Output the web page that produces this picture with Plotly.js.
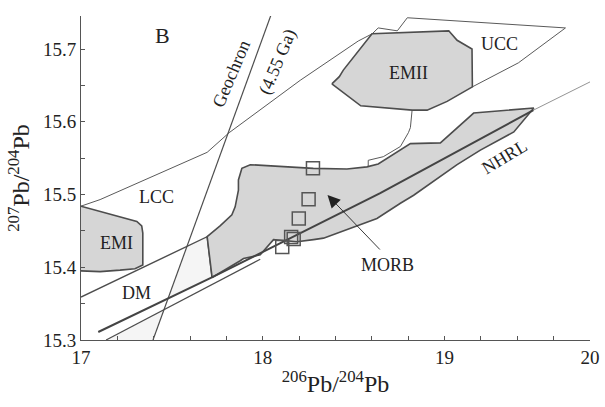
<!DOCTYPE html>
<html>
<head>
<meta charset="utf-8">
<script src="https://cdn.plot.ly/plotly-3.0.1.min.js"></script>
<style>html,body{margin:0;padding:0;background:#fff;}#chart{width:605px;height:407px;}</style>
</head>
<body>
<div id="chart"></div>
<script>
// ---- Data (206Pb/204Pb, 207Pb/204Pb) ----
const emiX = [17.000, 17.307, 17.334, 17.340, 17.340, 17.297, 17.215, 17.105, 17.000];
const emiY = [15.484, 15.463, 15.457, 15.447, 15.403, 15.398, 15.396, 15.394, 15.395];

const emiiX = [18.380, 18.421, 18.443, 18.601, 19.023, 19.069, 19.151, 19.153, 19.014, 18.904, 18.821, 18.539, 18.380];
const emiiY = [15.652, 15.662, 15.671, 15.721, 15.725, 15.712, 15.700, 15.648, 15.628, 15.616, 15.616, 15.622, 15.652];

const morbX = [17.721, 17.694, 17.765, 17.830, 17.848, 17.866, 17.866, 17.885, 17.931, 18.096, 18.278, 18.463, 18.573, 18.635, 18.812, 18.977, 19.160, 19.491,
               19.381, 19.197, 19.069, 18.830, 18.757, 18.628, 18.334, 18.279, 18.188, 18.059, 18.023, 17.986, 17.894, 17.876, 17.721];
const morbY = [15.386, 15.442, 15.457, 15.472, 15.483, 15.506, 15.520, 15.536, 15.541, 15.539, 15.536, 15.535, 15.538, 15.542, 15.570, 15.571, 15.612, 15.619,
               15.586, 15.561, 15.541, 15.499, 15.488, 15.467, 15.440, 15.438, 15.435, 15.438, 15.428, 15.417, 15.412, 15.409, 15.386];

// crustal envelope: LCC upper boundary running into UCC
const crustX = [17.000, 17.105, 17.694, 17.815, 18.206, 18.525, 18.602, 18.635, 18.740, 18.795, 19.665, 19.406, 19.153];
const crustY = [15.484, 15.493, 15.558, 15.585, 15.657, 15.711, 15.721, 15.729, 15.725, 15.743, 15.729, 15.681, 15.648];

// link from EMII down to the MORB field
const linkX = [18.821, 18.812, 18.801, 18.757, 18.663, 18.580, 18.580];
const linkY = [15.615, 15.592, 15.585, 15.566, 15.552, 15.547, 15.538];

// lower LCC boundary and DM divide
const lccLowX = [17.000, 17.694, 17.721];
const lccLowY = [15.359, 15.442, 15.386];

// NHRL (thick) and its thin extension
const nhrlX = [17.095, 17.720, 18.646, 19.489];
const nhrlY = [15.311, 15.386, 15.502, 15.616];
const nhrlExtX = [19.489, 19.874];
const nhrlExtY = [15.616, 15.664];

// lower thin line
const lowX = [17.138, 17.986];
const lowY = [15.300, 15.411];

// Geochron (4.55 Ga)
const geoX = [17.396, 18.057];
const geoY = [15.300, 15.755];

// faint shaded areas
const shadeAX = [17.581, 17.694, 17.721, 17.480, 17.581];
const shadeAY = [15.429, 15.442, 15.386, 15.359, 15.429];
const shadeBX = [17.138, 17.396, 17.455, 17.138];
const shadeBY = [15.300, 15.300, 15.341, 15.300];

// samples (open squares)
const sampleX = [18.276, 18.252, 18.198, 18.156, 18.170, 18.107];
const sampleY = [15.536, 15.4935, 15.467, 15.4416, 15.4388, 15.428];

// ticks
const xTickVals = [17, 18, 19, 19.8];
const xTickText = ['17', '18', '19', '20'];
const xMinorVals = [17.2, 17.4, 17.6, 17.8, 18.2, 18.4, 18.6, 18.8, 19.2, 19.4, 19.6];
const yTickVals = [15.3, 15.4, 15.5, 15.6, 15.7];
const yTickText = ['15.3', '15.4', '15.5', '15.6', '15.7'];
const yMinorVals = [15.35, 15.45, 15.55, 15.65];

// labels
const labelText = ['B', 'LCC', 'EMI', 'DM', 'EMII', 'UCC', 'MORB', 'NHRL', 'Geochron', '(4.55 Ga)'];
const labelX = [17.449, 17.413, 17.198, 17.303, 18.801, 19.302, 18.688, 19.329, 17.826, 18.079];
const labelY = [15.719, 15.4966, 15.4333, 15.3646, 15.6677, 15.7069, 15.4031, 15.5516, 15.6656, 15.6821];
const labelAngle = [0, 0, 0, 0, 0, 0, 0, -31, -67, -67];
const labelSize = [22, 18, 18, 18, 18, 18, 18, 18, 18, 18];

const arrowTip = [18.356, 15.4993];
const arrowTail = [18.652, 15.4223];

const FONT = "'Liberation Serif', serif";
const FILL = '#d6d6d6';
const EDGE = '#4d4d4d';
const THIN = '#5a5a5a';

function poly(x, y, fill, lw, lc) {
  return {x: x, y: y, type: 'scatter', mode: 'lines', fill: 'toself', fillcolor: fill,
          line: {color: lc || EDGE, width: lw}, hoverinfo: 'skip', showlegend: false};
}
function line(x, y, w, c) {
  return {x: x, y: y, type: 'scatter', mode: 'lines', line: {color: c || THIN, width: w},
          hoverinfo: 'skip', showlegend: false};
}

const traces = [
  poly(shadeAX, shadeAY, '#f5f5f5', 0, 'rgba(0,0,0,0)'),
  poly(shadeBX, shadeBY, '#f5f5f5', 0, 'rgba(0,0,0,0)'),
  line(crustX, crustY, 1, THIN),
  line(linkX, linkY, 1, THIN),
  line(lccLowX, lccLowY, 1.4, EDGE),
  line(geoX, geoY, 1.2, EDGE),
  line(lowX, lowY, 1.2, EDGE),
  poly(emiX, emiY, FILL, 1.6),
  poly(morbX, morbY, FILL, 1.6),
  poly(emiiX, emiiY, FILL, 1.6),
  line(nhrlX, nhrlY, 2, '#444'),
  line(nhrlExtX, nhrlExtY, 0.8, '#777'),
  {x: sampleX, y: sampleY, type: 'scatter', mode: 'markers', hoverinfo: 'skip', showlegend: false,
   marker: {symbol: 'square-open', size: 13, color: '#555', line: {width: 1.5, color: '#555'}}}
];

const annotations = labelText.map((t, i) => ({
  x: labelX[i], y: labelY[i], xref: 'x', yref: 'y', text: t, showarrow: false,
  textangle: labelAngle[i], font: {family: FONT, size: labelSize[i], color: '#222'},
  xanchor: 'center', yanchor: 'middle'
}));
annotations.push({
  x: arrowTip[0], y: arrowTip[1], ax: arrowTail[0], ay: arrowTail[1],
  xref: 'x', yref: 'y', axref: 'x', ayref: 'y', text: '', showarrow: true,
  arrowhead: 2, arrowsize: 2.8, arrowwidth: 0.9, arrowcolor: '#222'
});

const layout = {
  width: 605, height: 407,
  margin: {l: 81, r: 15, t: 16, b: 67},
  paper_bgcolor: '#fff', plot_bgcolor: '#fff',
  font: {family: FONT, color: '#222'},
  xaxis: {
    range: [17, 19.8], showgrid: false, zeroline: false, showline: true,
    linecolor: '#555', linewidth: 1, ticks: 'inside', ticklen: 4, tickcolor: '#555',
    tickmode: 'array', tickvals: xTickVals, ticktext: xTickText,
    minor: {tickmode: 'array', tickvals: xMinorVals, ticks: 'inside', ticklen: 4, tickcolor: '#555', showgrid: false},
    tickfont: {family: FONT, size: 19, color: '#222'},
    title: {text: '<sup>206</sup>Pb/<sup>204</sup>Pb', font: {family: FONT, size: 24, color: '#222'}, standoff: 8}
  },
  yaxis: {
    range: [15.3, 15.7454], showgrid: false, zeroline: false, showline: true,
    linecolor: '#555', linewidth: 1, ticks: 'inside', ticklen: 4, tickcolor: '#555',
    tickmode: 'array', tickvals: yTickVals, ticktext: yTickText,
    minor: {tickmode: 'array', tickvals: yMinorVals, ticks: 'inside', ticklen: 4, tickcolor: '#555', showgrid: false},
    tickfont: {family: FONT, size: 19, color: '#222'},
    title: {text: '<sup>207</sup>Pb/<sup>204</sup>Pb', font: {family: FONT, size: 24, color: '#222'}, standoff: 6}
  },
  annotations: annotations
};

Plotly.newPlot('chart', traces, layout, {staticPlot: true, displayModeBar: false});
</script>
</body>
</html>
